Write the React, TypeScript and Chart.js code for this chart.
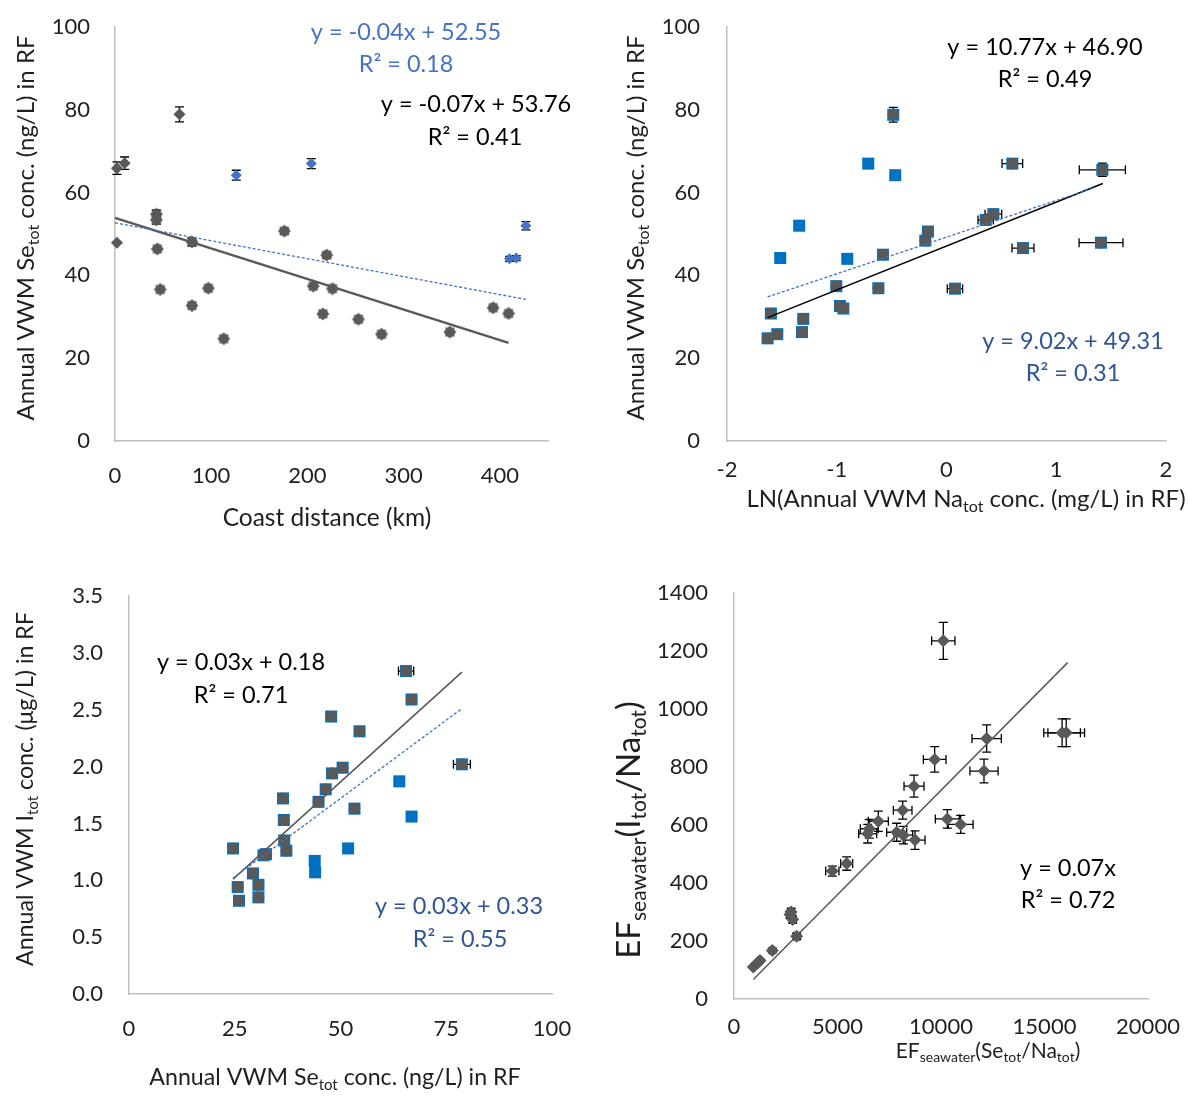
import React, { useEffect, useRef } from 'react';
import { Chart, registerables } from 'chart.js';
Chart.register(...registerables);

const FONT = 'Lato, "Open Sans", sans-serif';
const TXT = '#1f1f1f';
const DARK = '#595959';
const BLUE_MK = '#0070C0';
const BLUE_P1 = '#4472C4';
const BLUE_LBL = '#2F5597';
const AXIS = '#BFBFBF';
const EQ = 23.5;
const TT = 24;

// ---------- Panel 1: coast distance vs Se ----------
const p1XTicks = [0, 100, 200, 300, 400];
const p1YTicks = [0, 20, 40, 60, 80, 100];
const p1PlainX = [2, 10, 67, 2];
const p1PlainY = [65.9, 67.1, 78.9, 47.9];
const p1PlainErr = [1.5, 1.5, 1.8, 0];
const p1StarX = [43, 43, 44, 80, 47, 97, 80, 113, 176, 220, 206, 226, 216, 253, 277, 348, 393, 409];
const p1StarY = [54.8, 53.4, 46.4, 48.1, 36.6, 36.9, 32.7, 24.7, 50.7, 44.9, 37.4, 36.8, 30.7, 29.4, 25.8, 26.3, 32.2, 30.8];
const p1StarErr = [1, 1, 0, 1, 0, 0, 0, 0, 0.6, 0.6, 0, 0, 0, 0, 0, 0, 0, 0];
const p1BlueX = [126, 204, 427, 410, 417];
const p1BlueY = [64.2, 67.0, 52.0, 44.0, 44.2];
const p1BlueErr = [1.2, 1.2, 1.0, 0.6, 0.6];
const p1TrendDarkX = [0, 409];
const p1TrendDarkY = [53.9, 23.7];
const p1TrendBlueX = [0, 427];
const p1TrendBlueY = [52.7, 34.2];

// ---------- Panel 2: LN(Na) vs Se ----------
const p2XTicks = [-2, -1, 0, 1, 2];
const p2YTicks = [0, 20, 40, 60, 80, 100];
const p2DarkX = [-0.485, 0.6, 1.42, 0.427, 0.357, -0.169, -0.193, 0.697, 1.408, -0.579, -1.004, -0.621, 0.077, -1.6, -0.971, -0.94, -1.305, -1.317, -1.542, -1.63];
const p2DarkY = [78.8, 67.0, 65.5, 54.8, 53.4, 50.6, 48.4, 46.6, 47.9, 45.0, 37.4, 36.9, 36.8, 30.8, 32.6, 32.0, 29.5, 26.3, 25.8, 24.8];
const p2DarkXErr = [0, 0.094, 0.21, 0.076, 0.07, 0, 0, 0.1, 0.2, 0, 0, 0, 0.07, 0, 0, 0, 0, 0, 0, 0];
const p2DarkYErr = [1.8, 0, 1.6, 0, 0, 0, 0, 0, 0, 0, 0, 0, 0, 0, 0, 0, 0, 0, 0, 0];
const p2BlueOnlyX = [-0.713, -0.467, -1.342, -1.515, -0.904];
const p2BlueOnlyY = [67.0, 64.2, 52.0, 44.2, 44.0];
const p2TrendDarkX = [-1.63, 1.424];
const p2TrendDarkY = [29.8, 62.2];
const p2TrendBlueX = [-1.63, 1.35];
const p2TrendBlueY = [34.8, 61.2];

// ---------- Panel 3: Se vs I ----------
const p3XTicks = [0, 25, 50, 75, 100];
const p3YTicks = [0, 0.5, 1, 1.5, 2, 2.5, 3, 3.5];
const p3DarkX = [65.5, 66.8, 47.8, 54.5, 78.7, 50.5, 48.0, 46.5, 44.8, 36.4, 53.3, 36.6, 24.6, 36.7, 37.2, 32.4, 31.8, 29.3, 25.7, 30.6, 26.0, 30.6];
const p3DarkY = [2.84, 2.59, 2.44, 2.31, 2.02, 1.99, 1.94, 1.8, 1.69, 1.72, 1.63, 1.53, 1.28, 1.35, 1.26, 1.23, 1.22, 1.06, 0.94, 0.96, 0.82, 0.85];
const p3DarkXErr = [1.8, 1.0, 0, 0, 2.0, 0, 0, 0, 0, 0, 0, 0, 0, 0, 0, 0, 0, 0, 0, 0, 0, 0];
const p3BlueOnlyX = [63.9, 66.8, 51.8, 43.9, 44.0];
const p3BlueOnlyY = [1.87, 1.56, 1.28, 1.17, 1.07];
const p3BlueOnlyXErr = [0, 1.0, 0, 0, 0];
const p3TrendDarkX = [24.6, 78.7];
const p3TrendDarkY = [1.01, 2.83];
const p3TrendBlueX = [24.6, 78.7];
const p3TrendBlueY = [1.02, 2.51];

// ---------- Panel 4: EF(Se/Na) vs EF(I/Na) ----------
const p4XTicks = [0, 5000, 10000, 15000, 20000];
const p4YTicks = [0, 200, 400, 600, 800, 1000, 1200, 1400];
const p4X = [10111, 15850, 16050, 12206, 12077, 9694, 8696, 8148, 6972, 6537, 6459, 7858, 8180, 8744, 10306, 10950, 5443, 4750, 2705, 2834, 2760, 3027, 1852, 1256, 934, 1150];
const p4Y = [1235, 918, 918, 898, 786, 826, 734, 651, 613, 587, 570, 575, 565, 548, 621, 602, 467, 441, 291, 274, 300, 216, 167, 133, 110, 125];
const p4XErr = [563, 885, 885, 708, 680, 547, 483, 450, 483, 435, 435, 483, 450, 483, 580, 600, 290, 320, 150, 150, 150, 150, 100, 80, 60, 60];
const p4YErr = [64, 48, 48, 47, 41, 44, 38, 31, 35, 32, 32, 31, 30, 32, 32, 31, 23, 17, 12, 12, 12, 10, 8, 6, 5, 5];
const p4TrendX = [934, 16118];
const p4TrendY = [67, 1160];

type Run = { t: string; sub?: boolean };
type TextItem = { x: number; y: number; runs: Run[]; color: string; size: number; rotate?: boolean };

const pts = (xs: number[], ys: number[]) => xs.map((x, i) => ({ x, y: ys[i] }));

function drawRich(ctx: CanvasRenderingContext2D, item: TextItem) {
  const { runs, size, color } = item;
  ctx.save();
  ctx.translate(item.x, item.y);
  if (item.rotate) ctx.rotate(-Math.PI / 2);
  ctx.fillStyle = color;
  ctx.textBaseline = 'middle';
  ctx.textAlign = 'left';
  const subSize = Math.round(size * 0.65);
  let total = 0;
  const widths = runs.map((r) => {
    ctx.font = `${r.sub ? subSize : size}px ${FONT}`;
    const w = ctx.measureText(r.t).width;
    total += w;
    return w;
  });
  let x = -total / 2;
  runs.forEach((r, i) => {
    ctx.font = `${r.sub ? subSize : size}px ${FONT}`;
    ctx.fillText(r.t, x, r.sub ? size * 0.32 : 0);
    x += widths[i];
  });
  ctx.restore();
}

function makeStar(): HTMLCanvasElement {
  const c = document.createElement('canvas');
  c.width = 14;
  c.height = 14;
  const g = c.getContext('2d')!;
  g.fillStyle = DARK;
  g.beginPath();
  g.moveTo(7, 0.5);
  g.lineTo(13.5, 7);
  g.lineTo(7, 13.5);
  g.lineTo(0.5, 7);
  g.closePath();
  g.fill();
  g.fillRect(2.5, 2.5, 9, 9);
  return c;
}

type PanelCfg = {
  left: number;
  top: number;
  area: { L: number; T: number; R: number; B: number };
  x: { min: number; max: number; ticks: number[]; pad: number; fmt: (v: number) => string };
  y: { min: number; max: number; ticks: number[]; pad: number; fmt: (v: number) => string };
  datasets: any[];
  texts: TextItem[];
};

const W = 598;
const H = 549;

function Panel({ cfg }: { cfg: PanelCfg }) {
  const ref = useRef<HTMLCanvasElement>(null);
  useEffect(() => {
    const canvas = ref.current!;
    const ox = cfg.left;
    const oy = cfg.top;
    const yW = cfg.area.L - ox;
    const xH = oy + H - cfg.area.B;
    const overlay = {
      id: 'overlay',
      beforeDatasetsDraw(chart: any) {
        const ctx = chart.ctx as CanvasRenderingContext2D;
        const xs = chart.scales.x;
        const ys = chart.scales.y;
        ctx.save();
        ctx.strokeStyle = '#000';
        ctx.lineWidth = 1.3;
        chart.data.datasets.forEach((ds: any) => {
          if (!ds.errX && !ds.errY) return;
          ds.data.forEach((p: any, i: number) => {
            const px = xs.getPixelForValue(p.x);
            const py = ys.getPixelForValue(p.y);
            const cap = 4.5;
            if (ds.errY && ds.errY[i]) {
              const y1 = ys.getPixelForValue(p.y - ds.errY[i]);
              const y2 = ys.getPixelForValue(p.y + ds.errY[i]);
              ctx.beginPath();
              ctx.moveTo(px, y1);
              ctx.lineTo(px, y2);
              ctx.moveTo(px - cap, y1);
              ctx.lineTo(px + cap, y1);
              ctx.moveTo(px - cap, y2);
              ctx.lineTo(px + cap, y2);
              ctx.stroke();
            }
            if (ds.errX && ds.errX[i]) {
              const x1 = xs.getPixelForValue(p.x - ds.errX[i]);
              const x2 = xs.getPixelForValue(p.x + ds.errX[i]);
              ctx.beginPath();
              ctx.moveTo(x1, py);
              ctx.lineTo(x2, py);
              ctx.moveTo(x1, py - cap);
              ctx.lineTo(x1, py + cap);
              ctx.moveTo(x2, py - cap);
              ctx.lineTo(x2, py + cap);
              ctx.stroke();
            }
          });
        });
        ctx.restore();
      },
      afterDraw(chart: any) {
        const ctx = chart.ctx as CanvasRenderingContext2D;
        cfg.texts.forEach((t) => drawRich(ctx, { ...t, x: t.x - ox, y: t.y - oy }));
      },
    };
    const tickFont = { family: FONT, size: 22 };
    const zeroPad = (s: any) => {
      s.paddingTop = 0;
      s.paddingBottom = 0;
      s.paddingLeft = 0;
      s.paddingRight = 0;
    };
    const chart = new Chart(canvas, {
      type: 'scatter',
      data: { datasets: cfg.datasets },
      plugins: [overlay],
      options: {
        animation: false,
        responsive: false,
        events: [],
        layout: {
          autoPadding: false,
          padding: { left: 0, top: cfg.area.T - oy, right: ox + W - cfg.area.R, bottom: 0 },
        },
        plugins: { legend: { display: false }, tooltip: { enabled: false } },
        scales: {
          x: {
            type: 'linear',
            min: cfg.x.min,
            max: cfg.x.max,
            afterBuildTicks: (s: any) => {
              s.ticks = cfg.x.ticks.map((v) => ({ value: v }));
            },
            afterFit: (s: any) => {
              s.height = xH;
              zeroPad(s);
            },
            grid: { display: false, drawTicks: false },
            border: { display: true, color: AXIS, width: 1.5 },
            ticks: {
              padding: cfg.x.pad,
              font: tickFont,
              color: TXT,
              autoSkip: false,
              maxRotation: 0,
              callback: (v: any) => cfg.x.fmt(Number(v)),
            },
          },
          y: {
            type: 'linear',
            min: cfg.y.min,
            max: cfg.y.max,
            afterBuildTicks: (s: any) => {
              s.ticks = cfg.y.ticks.map((v) => ({ value: v }));
            },
            afterFit: (s: any) => {
              s.width = yW;
              zeroPad(s);
            },
            grid: { display: false, drawTicks: false },
            border: { display: true, color: AXIS, width: 1.5 },
            ticks: {
              padding: cfg.y.pad,
              font: tickFont,
              color: TXT,
              autoSkip: false,
              callback: (v: any) => cfg.y.fmt(Number(v)),
            },
          },
        },
      } as any,
    });
    return () => chart.destroy();
  }, [cfg]);
  return (
    <canvas
      ref={ref}
      width={W}
      height={H}
      style={{ position: 'absolute', left: cfg.left, top: cfg.top, width: W, height: H }}
    />
  );
}

const lineDs = (xs: number[], ys: number[], color: string, width: number, dash: number[] = []) => ({
  type: 'line',
  data: pts(xs, ys),
  showLine: true,
  borderColor: color,
  borderWidth: width,
  borderDash: dash,
  pointRadius: 0,
  fill: false,
  clip: false,
});

const ptDs = (data: any[], style: any, radius: number, color: string, extra: any = {}) => ({
  data,
  pointStyle: style,
  pointRadius: radius,
  backgroundColor: color,
  borderColor: color,
  borderWidth: 0,
  showLine: false,
  clip: false,
  ...extra,
});

const intFmt = (v: number) => String(Math.round(v));
const oneDec = (v: number) => v.toFixed(1);

const seTitle: Run[] = [{ t: 'Annual VWM Se' }, { t: 'tot', sub: true }, { t: ' conc. (ng/L) in RF' }];

function buildPanels(): PanelCfg[] {
  const star = makeStar();
  const p1: PanelCfg = {
    left: 0,
    top: 0,
    area: { L: 115, T: 27, R: 548, B: 441 },
    x: { min: 0, max: 450, ticks: p1XTicks, pad: 22, fmt: intFmt },
    y: { min: 0, max: 100, ticks: p1YTicks, pad: 25, fmt: intFmt },
    datasets: [
      lineDs(p1TrendBlueX, p1TrendBlueY, BLUE_P1, 1.3, [3, 2]),
      lineDs(p1TrendDarkX, p1TrendDarkY, DARK, 2.5),
      ptDs(pts(p1PlainX, p1PlainY), 'rectRot', 6, DARK, { errY: p1PlainErr }),
      ptDs(pts(p1StarX, p1StarY), star, 7, DARK, { errY: p1StarErr }),
      ptDs(pts(p1BlueX, p1BlueY), 'rectRot', 5.5, BLUE_P1, { errY: p1BlueErr }),
    ],
    texts: [
      { x: 406, y: 32, runs: [{ t: 'y = -0.04x + 52.55' }], color: BLUE_P1, size: EQ },
      { x: 406, y: 64, runs: [{ t: 'R² = 0.18' }], color: BLUE_P1, size: EQ },
      { x: 476, y: 104, runs: [{ t: 'y = -0.07x + 53.76' }], color: '#000', size: EQ },
      { x: 475, y: 137, runs: [{ t: 'R² = 0.41' }], color: '#000', size: EQ },
      { x: 327, y: 518, runs: [{ t: 'Coast distance (km)' }], color: TXT, size: 24.5 },
      { x: 26, y: 228, runs: seTitle, color: TXT, size: TT, rotate: true },
    ],
  };
  const p2: PanelCfg = {
    left: 598,
    top: 0,
    area: { L: 727, T: 27, R: 1166, B: 441 },
    x: { min: -2, max: 2, ticks: p2XTicks, pad: 16, fmt: intFmt },
    y: { min: 0, max: 100, ticks: p2YTicks, pad: 27, fmt: intFmt },
    datasets: [
      lineDs(p2TrendBlueX, p2TrendBlueY, BLUE_P1, 1.3, [3, 2]),
      lineDs(p2TrendDarkX, p2TrendDarkY, '#000', 1.5),
      ptDs(pts(p2DarkX, p2DarkY), 'circle', 5.8, DARK, { errX: p2DarkXErr, errY: p2DarkYErr }),
      ptDs(pts(p2BlueOnlyX.concat(p2DarkX), p2BlueOnlyY.concat(p2DarkY)), 'rect', 8.5, BLUE_MK),
    ],
    texts: [
      { x: 1045, y: 47, runs: [{ t: 'y = 10.77x + 46.90' }], color: '#000', size: EQ },
      { x: 1045, y: 79, runs: [{ t: 'R² = 0.49' }], color: '#000', size: EQ },
      { x: 1073, y: 341, runs: [{ t: 'y = 9.02x + 49.31' }], color: BLUE_LBL, size: EQ },
      { x: 1073, y: 373, runs: [{ t: 'R² = 0.31' }], color: BLUE_LBL, size: EQ },
      {
        x: 966,
        y: 499,
        runs: [{ t: 'LN(Annual VWM Na' }, { t: 'tot', sub: true }, { t: ' conc. (mg/L) in RF)' }],
        color: TXT,
        size: TT,
      },
      { x: 636, y: 228, runs: seTitle, color: TXT, size: TT, rotate: true },
    ],
  };
  const p3: PanelCfg = {
    left: 0,
    top: 549,
    area: { L: 129, T: 596, R: 552, B: 994 },
    x: { min: 0, max: 100, ticks: p3XTicks, pad: 22, fmt: intFmt },
    y: { min: 0, max: 3.5, ticks: p3YTicks, pad: 26, fmt: oneDec },
    datasets: [
      lineDs(p3TrendBlueX, p3TrendBlueY, BLUE_P1, 1.3, [3, 2]),
      lineDs(p3TrendDarkX, p3TrendDarkY, DARK, 1.6),
      ptDs(pts(p3DarkX, p3DarkY), 'circle', 5.8, DARK, { errX: p3DarkXErr }),
      ptDs(pts(p3BlueOnlyX.concat(p3DarkX), p3BlueOnlyY.concat(p3DarkY)), 'rect', 8.5, BLUE_MK, {
        errX: p3BlueOnlyXErr,
      }),
    ],
    texts: [
      { x: 241, y: 662, runs: [{ t: 'y = 0.03x + 0.18' }], color: '#000', size: EQ },
      { x: 241, y: 695, runs: [{ t: 'R² = 0.71' }], color: '#000', size: EQ },
      { x: 459, y: 906, runs: [{ t: 'y = 0.03x + 0.33' }], color: BLUE_LBL, size: EQ },
      { x: 460, y: 939, runs: [{ t: 'R² = 0.55' }], color: BLUE_LBL, size: EQ },
      { x: 335, y: 1078, runs: seTitle, color: TXT, size: 23.2 },
      {
        x: 26,
        y: 789,
        runs: [{ t: 'Annual VWM I' }, { t: 'tot', sub: true }, { t: ' conc. (μg/L) in RF' }],
        color: TXT,
        size: 23.2,
        rotate: true,
      },
    ],
  };
  const p4: PanelCfg = {
    left: 598,
    top: 549,
    area: { L: 734, T: 593, R: 1148, B: 999 },
    x: { min: 0, max: 20000, ticks: p4XTicks, pad: 15, fmt: intFmt },
    y: { min: 0, max: 1400, ticks: p4YTicks, pad: 26, fmt: intFmt },
    datasets: [
      lineDs(p4TrendX, p4TrendY, DARK, 1.5),
      ptDs(pts(p4X, p4Y), 'rectRot', 6.5, DARK, { errX: p4XErr, errY: p4YErr }),
    ],
    texts: [
      { x: 1068, y: 868, runs: [{ t: 'y = 0.07x' }], color: '#000', size: EQ },
      { x: 1068, y: 900, runs: [{ t: 'R² = 0.72' }], color: '#000', size: EQ },
      {
        x: 988,
        y: 1051,
        runs: [
          { t: 'EF' },
          { t: 'seawater', sub: true },
          { t: '(Se' },
          { t: 'tot', sub: true },
          { t: '/Na' },
          { t: 'tot', sub: true },
          { t: ')' },
        ],
        color: TXT,
        size: 21,
      },
      {
        x: 629,
        y: 830,
        runs: [
          { t: 'EF' },
          { t: 'seawater', sub: true },
          { t: '(I' },
          { t: 'tot', sub: true },
          { t: '/Na' },
          { t: 'tot', sub: true },
          { t: ')' },
        ],
        color: TXT,
        size: 33,
        rotate: true,
      },
    ],
  };
  return [p1, p2, p3, p4];
}

export default function App() {
  const panelsRef = useRef<PanelCfg[] | null>(null);
  if (!panelsRef.current) panelsRef.current = buildPanels();
  return (
    <div style={{ position: 'absolute', left: 0, top: 0, width: 1196, height: 1098, background: '#fff' }}>
      {panelsRef.current.map((cfg, i) => (
        <Panel key={i} cfg={cfg} />
      ))}
    </div>
  );
}
